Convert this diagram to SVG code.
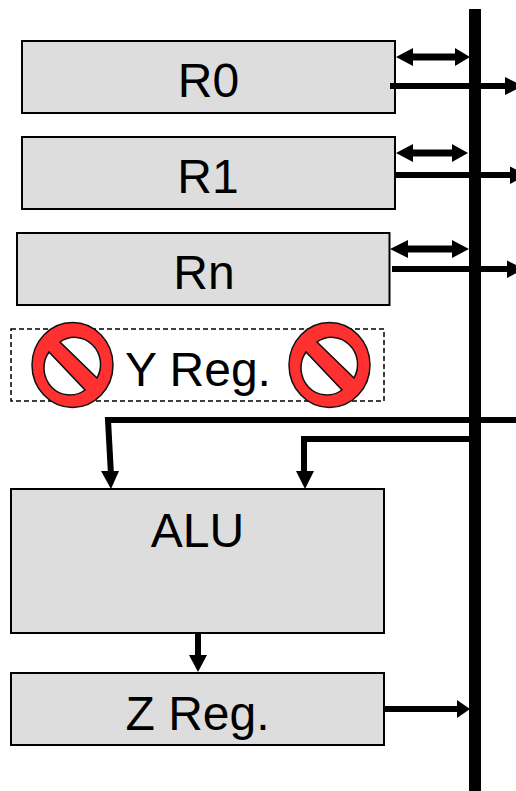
<svg xmlns="http://www.w3.org/2000/svg" width="516" height="791" viewBox="0 0 516 791">
<style>
.box{fill:#ddd;stroke:#000;stroke-width:2}
.t{font-family:"Liberation Sans",Arial,sans-serif;font-size:48px;fill:#000;text-anchor:middle}
.w{stroke:#000;stroke-width:6;fill:none}
.n{stroke:#000;stroke-width:7;fill:none}
.h{fill:#000;stroke:none}
.ring{fill:#ff3030;stroke:#111;stroke-width:1.5}
.in{fill:#fff;stroke:#111;stroke-width:1.5}
</style>
<rect width="516" height="791" fill="#fff"/>
<g id="R0"><rect class="box" x="22" y="41" width="373" height="72"/><text class="t" x="208.500" y="97">R0</text></g>
<g id="R1"><rect class="box" x="22" y="137" width="373" height="72"/><text class="t" x="208" y="193">R1</text></g>
<g id="Rn"><rect class="box" x="17" y="233" width="372.500" height="72"/><text class="t" x="204" y="289">Rn</text></g>
<g id="YReg">
<rect x="11" y="329" width="373" height="72" fill="#fff" stroke="#000" stroke-width="1.500" stroke-dasharray="5 3"/>
<text class="t" x="198" y="386">Y Reg.</text>
<g id="no1"><ellipse class="ring" cx="72.500" cy="365" rx="40.500" ry="42.500"/><path class="in" d="M49 352A26 27 0 0 0 85 390ZM60 342A26 27 0 0 1 97 378Z"/></g>
<g id="no2"><ellipse class="ring" cx="329.500" cy="365" rx="40.500" ry="42.500"/><path class="in" d="M306 352A26 27 0 0 0 342 390ZM317 342A26 27 0 0 1 354 378Z"/></g>
</g>
<g id="ALU"><rect class="box" x="11" y="489" width="373" height="144"/><text class="t" x="197.500" y="547">ALU</text></g>
<g id="ZReg"><rect class="box" x="11" y="673" width="373" height="72"/><text class="t" x="197.500" y="730">Z Reg.</text></g>
<g id="connectors">
<rect id="bus" x="469" y="9" width="12" height="782" fill="#000"/>
<path class="n" d="M412 57H456"/><path class="h" d="M396 57L413 48V66ZM470 57L455 48V66Z"/>
<path class="w" d="M390 86H506"/><path class="h" d="M523 86L505 77V95Z"/>
<path class="n" d="M412 153H453"/><path class="h" d="M396 153L413 144V162ZM468 153L452 144V162Z"/>
<path class="w" d="M396 175H511"/><path class="h" d="M527 175L510 166.500V184Z"/>
<path class="n" d="M407 249H453"/><path class="h" d="M390 249L408 240V258ZM469 249L452 240V258Z"/>
<path class="w" d="M392 269H508"/><path class="h" d="M524 269L507 260.500V278Z"/>
<path class="w" d="M516 420H108L111 475"/><path class="h" d="M111 489L101 471H119Z"/>
<path class="w" d="M469 439H304V475"/><path class="h" d="M305 489L296 471H314Z"/>
<path class="w" d="M198 633V658"/><path class="h" d="M198 672L189 655H207Z"/>
<path class="w" d="M385 709H458"/><path class="h" d="M470 709L457 700V718Z"/>
</g>
</svg>
